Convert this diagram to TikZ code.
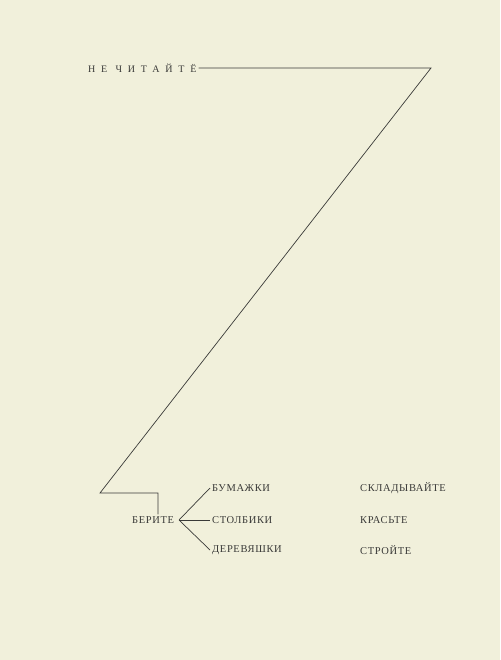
\documentclass[tikz,border=0pt]{standalone}
\usepackage{fontspec}
\setmainfont{Liberation Serif}
\newfontfamily\titlefont{Liberation Serif}[LetterSpace=58]
\newfontfamily\wordfont{Liberation Serif}[LetterSpace=6]
\definecolor{paper}{HTML}{F1F0DB}
\definecolor{ink}{HTML}{3A3A38}
\tikzset{
  word/.style={anchor=west, inner sep=0pt, text=ink, font=\wordfont\fontsize{10.5}{12}\selectfont},
  stroke/.style={draw=ink, line width=0.7pt}
}

\begin{document}
\begin{tikzpicture}[x=1pt, y=-1pt]
\fill[paper] (0,0) rectangle (500,660);
\useasboundingbox (0,0) rectangle (500,660);
\node[word, font=\titlefont\fontsize{10}{12}\selectfont] (ne) at (88,68) {НЕ ЧИТАЙТЁ};
\coordinate (topright) at (431,68);
\coordinate (bottomleft) at (100,493);
\coordinate (corner) at (158,493);
\node[word] (berite) at (132,520) {БЕРИТЕ};
\coordinate (fork) at (179,520);
\node[word] (bumazhki) at (212,488) {БУМАЖКИ};
\node[word] (stolbiki) at (212,520) {СТОЛБИКИ};
\node[word] (derevyashki) at (212,550) {ДЕРЕВЯШКИ};
\node[word] (skladyvayte) at (360,488) {СКЛАДЫВАЙТЕ};
\node[word] (krasyte) at (360,520) {КРАСЬТЕ};
\node[word] (stroyte) at (360,550) {СТРОЙТЕ};
\draw[stroke] ([xshift=2pt]ne.east) -- (topright) -- (bottomleft) -- (corner)
	-- ([yshift=2pt]berite.north -| corner);
\draw[stroke] (fork) -- ([xshift=-2pt]bumazhki.west);
\draw[stroke] (fork) -- ([xshift=-2pt]stolbiki.west);
\draw[stroke] (fork) -- ([xshift=-2pt]derevyashki.west);
\end{tikzpicture}
\end{document}
